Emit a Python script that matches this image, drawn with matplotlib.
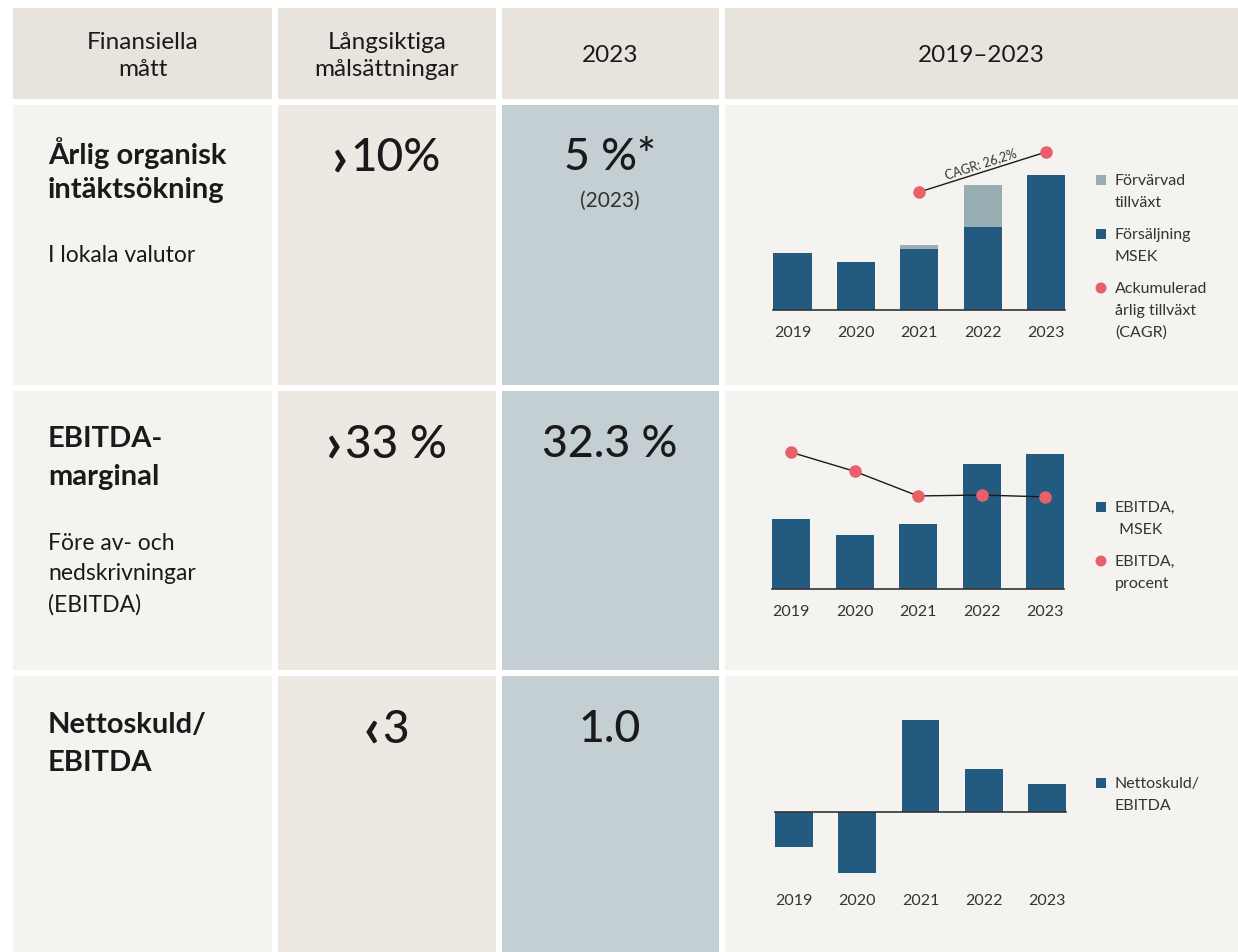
import matplotlib.pyplot as plt
from matplotlib.patches import Rectangle, Circle
import numpy as np

plt.rcParams['font.family'] = ['Lato', 'DejaVu Sans']

W, H = 1238, 953

years = ['2019', '2020', '2021', '2022', '2023']

# rad 1: försäljning (MSEK, uppskattat) och förvärvad tillväxt
sales = [567, 477, 607, 827, 1347]
acquired = [0, 0, 40, 420, 0]
cagr_years = [2, 4]
cagr_vals = [1180, 1580]
cagr_label = 'CAGR: 26,2%'

# rad 2: EBITDA MSEK och marginal i procent
ebitda = [225, 174, 209, 403, 435]
margin = [37.0, 35.0, 32.4, 32.5, 32.3]

# rad 3: nettoskuld/EBITDA
netdebt = [-1.24, -2.17, 3.29, 1.54, 1.0]

headers = ['Finansiella\nmått', 'Långsiktiga\nmålsättningar', '2023', '2019–2023']
target_signs = ['›', '›', '‹']
target_vals = ['10%', '33 %', '3']
outcomes = ['5 %*', '32.3 %', '1.0']

dark = '#235A80'
light = '#97AFB3'
red = '#E8606A'
ink = '#1A1A1A'
grey = '#333333'

fig = plt.figure(figsize=(W / 100, H / 100), dpi=100)
fig.patch.set_facecolor('white')

bg = fig.add_axes([0, 0, 1, 1])
bg.set_xlim(0, W)
bg.set_ylim(H, 0)
bg.axis('off')

cols = [(13, 272), (278, 496), (502, 719), (725, 1238)]
rows = [(106, 386), (392, 671), (677, 953)]
body_colors = ['#F5F3F0', '#EDE9E2', '#C3CFD3', '#F5F3F0']

for (x0, x1), txt in zip(cols, headers):
    bg.add_patch(Rectangle((x0, 9), x1 - x0, 91, color='#E8E3DC', lw=0))
    bg.text((x0 + x1) / 2, 56, txt, ha='center', va='center', fontsize=17.5,
            color=ink, linespacing=1.32)

for y0, y1 in rows:
    for (x0, x1), c in zip(cols, body_colors):
        bg.add_patch(Rectangle((x0, y0), x1 - x0, y1 - y0, color=c, lw=0))


def lines(x, ys, texts, **kw):
    for y, t in zip(ys, texts):
        bg.text(x, y, t, va='center', **kw)


# kolumn 1
lines(48, [153, 190], ['Årlig organisk', 'intäktsökning'], fontsize=21, fontweight='bold', color=ink)
lines(48, [255], ['I lokala valutor'], fontsize=16.5, color=ink)
lines(48, [439, 477], ['EBITDA-', 'marginal'], fontsize=21, fontweight='bold', color=ink)
lines(48, [544, 574, 605], ['Före av- och', 'nedskrivningar', '(EBITDA)'],
      fontsize=16.5, color=ink)
lines(48, [725, 763], ['Nettoskuld/', 'EBITDA'], fontsize=21, fontweight='bold', color=ink)

# kolumn 2 och 3
renderer = fig.canvas.get_renderer()
for y, s, t, o in zip([158, 445, 730], target_signs, target_vals, outcomes):
    num = bg.text(396, y, t, ha='center', va='center', fontsize=33, fontweight='medium', color=ink)
    left = num.get_window_extent(renderer).x0
    bg.text(left - 3, y + 1, s, ha='right', va='center',
            fontsize=40, fontweight='bold', color=ink)
    bg.text(610, y, o, ha='center', va='center', fontsize=32, fontweight='medium', color=ink)
bg.text(610, 201, '(2023)', ha='center', va='center', fontsize=15, color=grey)


# legender
def legend_item(y, kind, color, texts):
    if kind == 'sq':
        bg.add_patch(Rectangle((1096, y - 5), 10, 10, color=color, lw=0))
    else:
        bg.add_patch(Circle((1101, y), 5.5, color=color, lw=0))
    lines(1115, [y + 22 * i for i in range(len(texts))], texts, fontsize=11.5, color=grey)


legend_item(181, 'sq', light, ['Förvärvad', 'tillväxt'])
legend_item(235, 'sq', dark, ['Försäljning', 'MSEK'])
legend_item(289, 'dot', red, ['Ackumulerad', 'årlig tillväxt', '(CAGR)'])
legend_item(508, 'sq', dark, ['EBITDA,', ' MSEK'])
legend_item(562, 'dot', red, ['EBITDA,', 'procent'])
legend_item(784, 'sq', dark, ['Nettoskuld/', 'EBITDA'])


def chart_ax(left, right, top, bottom, pad):
    ax = fig.add_axes([left / W, 1 - bottom / H, (right - left) / W, (bottom - top) / H])
    ax.patch.set_alpha(0)
    for s in ax.spines.values():
        s.set_visible(False)
    ax.set_xlim(-0.5, 4.5)
    ax.set_xticks(range(len(years)))
    ax.set_xticklabels(years, fontsize=11.5, color=grey)
    ax.tick_params(axis='x', length=0, pad=pad)
    ax.set_yticks([])
    return ax


x = np.arange(len(years))

# diagram 1
ax1 = chart_ax(760.8, 1077.8, 140, 311, 10.5)
ax1.set_ylim(0, 1710)
ax1.bar(x, sales, 0.6, color=dark, zorder=2)
ax1.bar(x, acquired, 0.6, bottom=sales, color=light, zorder=2)
ax1.plot([-0.3, 4.3], [0, 0], color=grey, lw=1.2, zorder=3, clip_on=False)
ax1.plot(cagr_years, cagr_vals, color=ink, lw=1, zorder=4, clip_on=False)
ax1.plot(cagr_years, cagr_vals, 'o', color=red, ms=8, zorder=5, clip_on=False)
bg.text(981, 164, cagr_label, ha='center', va='center', rotation=17.8,
        rotation_mode='anchor', fontsize=9, color=grey)

# diagram 2
ax2 = chart_ax(759.3, 1076.8, 440, 590, 10.5)
ax2.set_ylim(0, 483)
ax2.bar(x, ebitda, 0.6, color=dark, zorder=2)
ax2.plot([-0.3, 4.3], [0, 0], color=grey, lw=1.2, zorder=3, clip_on=False)
ax2b = ax2.twinx()
ax2b.set_ylim(22.6, 38.4)
ax2b.axis('off')
ax2b.plot(x, margin, color=ink, lw=1, zorder=4)
ax2b.plot(x, margin, 'o', color=red, ms=8, zorder=5, clip_on=False)

# diagram 3
ax3 = chart_ax(762.4, 1078.6, 705, 880, 10)
ax3.set_ylim(-2.39, 3.86)
ax3.bar(x, netdebt, 0.6, color=dark, zorder=2)
ax3.plot([-0.3, 4.3], [0, 0], color=grey, lw=1.2, zorder=3, clip_on=False)

fig.savefig('out.png', dpi=100)
